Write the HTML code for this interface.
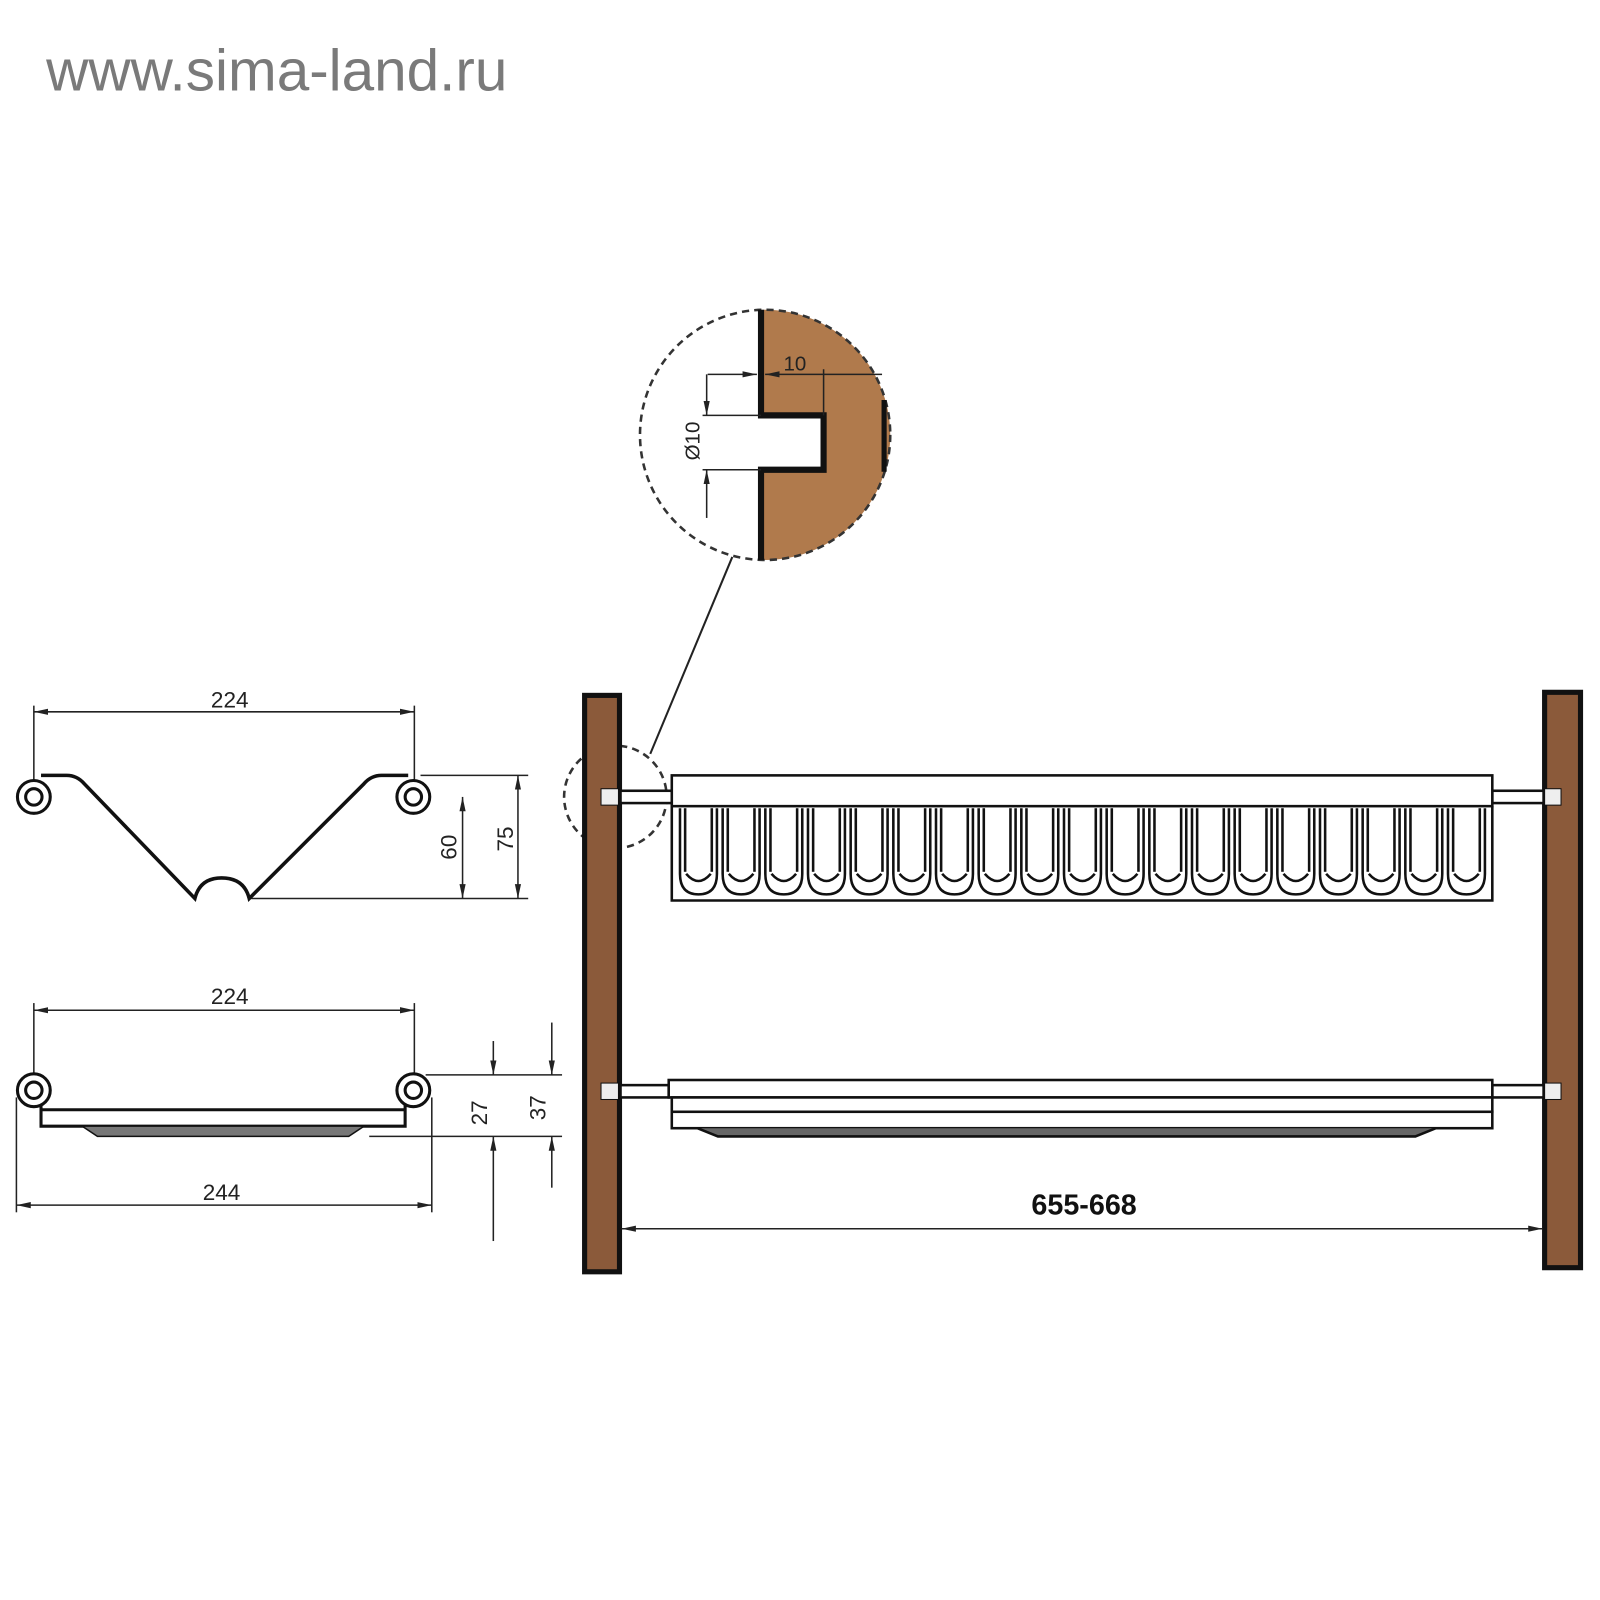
<!DOCTYPE html>
<html><head><meta charset="utf-8"><style>
html,body{margin:0;padding:0;background:#fff;}
svg{display:block;}
text{font-family:"Liberation Sans",Arial,sans-serif;}
</style></head><body>
<svg width="1600" height="1600" viewBox="0 0 1560 1560" xmlns="http://www.w3.org/2000/svg">
<defs>
<marker id="a" markerWidth="14" markerHeight="8" refX="14" refY="4" orient="auto" markerUnits="userSpaceOnUse"><path d="M0,1 L14,4 L0,7 Z" fill="#222"/></marker>
<marker id="b" markerWidth="14" markerHeight="8" refX="0" refY="4" orient="auto" markerUnits="userSpaceOnUse"><path d="M14,1 L0,4 L14,7 Z" fill="#222"/></marker>
<clipPath id="cc"><circle cx="746" cy="424" r="122"/></clipPath>
<g id="cup" fill="none" stroke="#111" stroke-width="2.5">
<path d="M0,788 L0,852 Q0,872 18,872 Q36,872 36,852 L36,788"/>
<path d="M5,788 L5,850"/><path d="M31,788 L31,850"/>
<path d="M6,852 Q18,866 30,852"/>
</g>
</defs>
<text x="45" y="88" font-size="57" fill="#7a7a7a">www.sima-land.ru</text>

<!-- detail circle -->
<g clip-path="url(#cc)">
<path d="M742,290 L900,290 L900,560 L742,560 L742,458 L803,458 L803,405 L742,405 Z" fill="#B07A4C"/>
</g>
<circle cx="746" cy="424" r="122" fill="none" stroke="#333" stroke-width="2.5" stroke-dasharray="7,5"/>
<path d="M742,302 L742,405 L803,405 L803,458 L742,458 L742,546" fill="none" stroke="#111" stroke-width="6"/>
<path d="M862,390 L862,460" stroke="#111" stroke-width="5"/>
<line x1="803" y1="360" x2="803" y2="405" stroke="#222" stroke-width="1.5"/>
<line x1="690" y1="365" x2="738" y2="365" stroke="#222" stroke-width="1.5" marker-end="url(#a)"/>
<line x1="746" y1="365" x2="860" y2="365" stroke="#222" stroke-width="1.5" marker-start="url(#b)"/>
<text x="775" y="361" font-size="20" fill="#222" text-anchor="middle">10</text>
<line x1="685" y1="405" x2="742" y2="405" stroke="#222" stroke-width="1.5"/>
<line x1="685" y1="458" x2="742" y2="458" stroke="#222" stroke-width="1.5"/>
<line x1="689" y1="365" x2="689" y2="405" stroke="#222" stroke-width="1.5" marker-end="url(#a)"/>
<line x1="689" y1="505" x2="689" y2="458" stroke="#222" stroke-width="1.5" marker-end="url(#a)"/>
<text transform="translate(682,430) rotate(-90)" font-size="20" fill="#222" text-anchor="middle">Ø10</text>
<line x1="714" y1="543" x2="634" y2="735" stroke="#222" stroke-width="2"/>
<circle cx="600" cy="777" r="50" fill="none" stroke="#333" stroke-width="2.5" stroke-dasharray="7,5"/>

<!-- posts -->
<rect x="570" y="678" width="34" height="562" fill="#8B5A3A" stroke="#111" stroke-width="5"/>
<rect x="1506" y="675" width="35" height="561" fill="#8B5A3A" stroke="#111" stroke-width="5"/>

<!-- top rack -->
<g stroke="#111" stroke-width="2.5" fill="#fff">
<rect x="605" y="771" width="50" height="12"/>
<rect x="1455" y="771" width="50" height="12"/>
<rect x="586" y="769" width="17" height="16" fill="#eee" stroke-width="1"/>
<rect x="1506" y="769" width="16" height="16" fill="#eee" stroke-width="1"/>
<rect x="655" y="756" width="800" height="30"/>
<path d="M655,786 L655,878 L1455,878 L1455,786" fill="none"/>
</g>
<use href="#cup" x="663"/><use href="#cup" x="704.6"/><use href="#cup" x="746.2"/><use href="#cup" x="787.8"/>
<use href="#cup" x="829.4"/><use href="#cup" x="871"/><use href="#cup" x="912.6"/><use href="#cup" x="954.2"/>
<use href="#cup" x="995.8"/><use href="#cup" x="1037.4"/><use href="#cup" x="1079"/><use href="#cup" x="1120.6"/>
<use href="#cup" x="1162.2"/><use href="#cup" x="1203.8"/><use href="#cup" x="1245.4"/><use href="#cup" x="1287"/>
<use href="#cup" x="1328.6"/><use href="#cup" x="1370.2"/><use href="#cup" x="1411.8"/>

<!-- bottom tray -->
<g stroke="#111" stroke-width="2.5" fill="#fff">
<rect x="605" y="1058" width="47" height="12"/>
<rect x="1455" y="1058" width="50" height="12"/>
<rect x="586" y="1056" width="17" height="16" fill="#eee" stroke-width="1"/>
<rect x="1506" y="1056" width="16" height="16" fill="#eee" stroke-width="1"/>
<rect x="652" y="1053" width="803" height="17"/>
<rect x="655" y="1070" width="800" height="14"/>
<rect x="655" y="1084" width="800" height="16"/>
<path d="M680,1100 L700,1108 L1380,1108 L1400,1100" fill="#666"/>
</g>
<line x1="606" y1="1198" x2="1504" y2="1198" stroke="#222" stroke-width="1.5" marker-start="url(#b)" marker-end="url(#a)"/>
<text x="1057" y="1184" font-size="28" font-weight="bold" fill="#111" text-anchor="middle">655-668</text>

<!-- left V profile -->
<g stroke="#222" stroke-width="1.5" fill="none">
<line x1="33" y1="688" x2="33" y2="770"/><line x1="404" y1="688" x2="404" y2="770"/>
<line x1="33" y1="694" x2="404" y2="694" marker-start="url(#b)" marker-end="url(#a)"/>
<line x1="410" y1="756" x2="515" y2="756"/><line x1="245" y1="876" x2="515" y2="876"/>
<line x1="451" y1="777" x2="451" y2="876" marker-start="url(#b)" marker-end="url(#a)"/>
<line x1="505" y1="756" x2="505" y2="876" marker-start="url(#b)" marker-end="url(#a)"/>
</g>
<text x="224" y="690" font-size="22" fill="#222" text-anchor="middle">224</text>
<text transform="translate(445,826) rotate(-90)" font-size="22" fill="#222" text-anchor="middle">60</text>
<text transform="translate(500,818) rotate(-90)" font-size="22" fill="#222" text-anchor="middle">75</text>
<path d="M40,756 L65,756 Q75,756 82,764 L190,876 Q195,856 216,856 Q238,856 243,876 L355,764 Q362,756 372,756 L398,756" fill="none" stroke="#111" stroke-width="3.5"/>
<g fill="#fff" stroke="#111" stroke-width="3">
<circle cx="33" cy="777" r="16"/><circle cx="33" cy="777" r="8"/>
<circle cx="403" cy="777" r="16"/><circle cx="403" cy="777" r="8"/>
</g>

<!-- left tray profile -->
<g stroke="#222" stroke-width="1.5" fill="none">
<line x1="33" y1="978" x2="33" y2="1055"/><line x1="404" y1="978" x2="404" y2="1055"/>
<line x1="33" y1="985" x2="404" y2="985" marker-start="url(#b)" marker-end="url(#a)"/>
<line x1="16" y1="1070" x2="16" y2="1182"/><line x1="421" y1="1070" x2="421" y2="1182"/>
<line x1="16" y1="1175" x2="421" y2="1175" marker-start="url(#b)" marker-end="url(#a)"/>
<line x1="415" y1="1048" x2="548" y2="1048"/><line x1="360" y1="1108" x2="548" y2="1108"/>
<line x1="481" y1="1015" x2="481" y2="1048" marker-end="url(#a)"/>
<line x1="481" y1="1210" x2="481" y2="1108" marker-end="url(#a)"/>
<line x1="538" y1="997" x2="538" y2="1048" marker-end="url(#a)"/>
<line x1="538" y1="1158" x2="538" y2="1108" marker-end="url(#a)"/>
</g>
<text x="224" y="979" font-size="22" fill="#222" text-anchor="middle">224</text>
<text x="216" y="1170" font-size="22" fill="#222" text-anchor="middle">244</text>
<text transform="translate(475,1085) rotate(-90)" font-size="22" fill="#222" text-anchor="middle">27</text>
<text transform="translate(532,1080) rotate(-90)" font-size="22" fill="#222" text-anchor="middle">37</text>
<path d="M40,1070 L40,1098 L395,1098 L395,1070" fill="none" stroke="#111" stroke-width="3"/>
<line x1="40" y1="1082" x2="395" y2="1082" stroke="#111" stroke-width="3"/>
<path d="M80,1098 L95,1108 L340,1108 L355,1098 Z" fill="#777" stroke="#111" stroke-width="1.5"/>
<g fill="#fff" stroke="#111" stroke-width="3">
<circle cx="33" cy="1063" r="16"/><circle cx="33" cy="1063" r="8"/>
<circle cx="403" cy="1063" r="16"/><circle cx="403" cy="1063" r="8"/>
</g>
</svg>
</body></html>
